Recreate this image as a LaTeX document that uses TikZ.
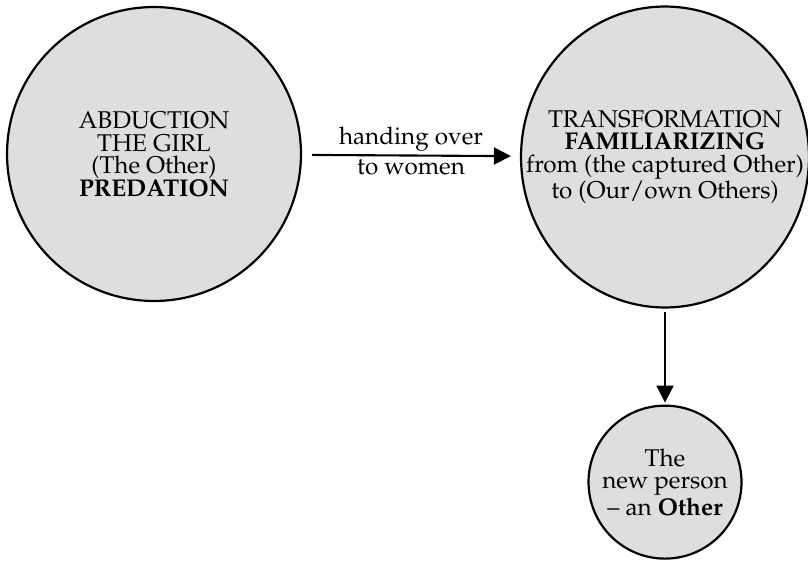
\documentclass[tikz,border=0pt]{standalone}
\usepackage[T1]{fontenc}
\usepackage{mathpazo}
\usetikzlibrary{arrows.meta,positioning,shapes.geometric}
\definecolor{discgray}{RGB}{221,222,224}

\begin{document}
\begin{tikzpicture}[
  x=0.02cm, y=-0.02cm,
  node distance=1.92cm,
  every node/.style={font=\fontsize{13.8}{12.8}\selectfont, align=center},
  disc/.style={draw, circle, line width=1.25pt, fill=discgray, inner sep=0pt},
  oval/.style={draw, ellipse, line width=1.25pt, fill=discgray,
               inner xsep=-1.4cm, inner ysep=0pt},
  lbl/.style={inner sep=2pt},
  arr/.style={-{Triangle[length=3.4mm, width=3.4mm]}, line width=1.2pt}
]
  \useasboundingbox (0,0) rectangle (808,562);
  \node[disc, minimum size=5.88cm] (abd) at (154,154)
    {ABDUCTION\\THE GIRL\\(The Other)\\\textbf{PREDATION}};
  \node[oval, minimum width=5.76cm, minimum height=6.02cm] (trans) at (665,157)
    {TRANSFORMATION\\\textbf{FAMILIARIZING}\\from (the captured Other)\\to (Our/own Others)};
  \node[disc, minimum size=3.06cm, below=of trans] (newp)
    {The\\new person\\-- an \textbf{Other}};
  \draw[arr, shorten <=2mm, shorten >=1.8mm] (abd) --
    node[lbl, above] {handing over} node[lbl, below] {to women} (trans);
  \draw[arr, shorten <=0.6mm, shorten >=0.4mm] (trans) -- (newp);
\end{tikzpicture}
\end{document}
